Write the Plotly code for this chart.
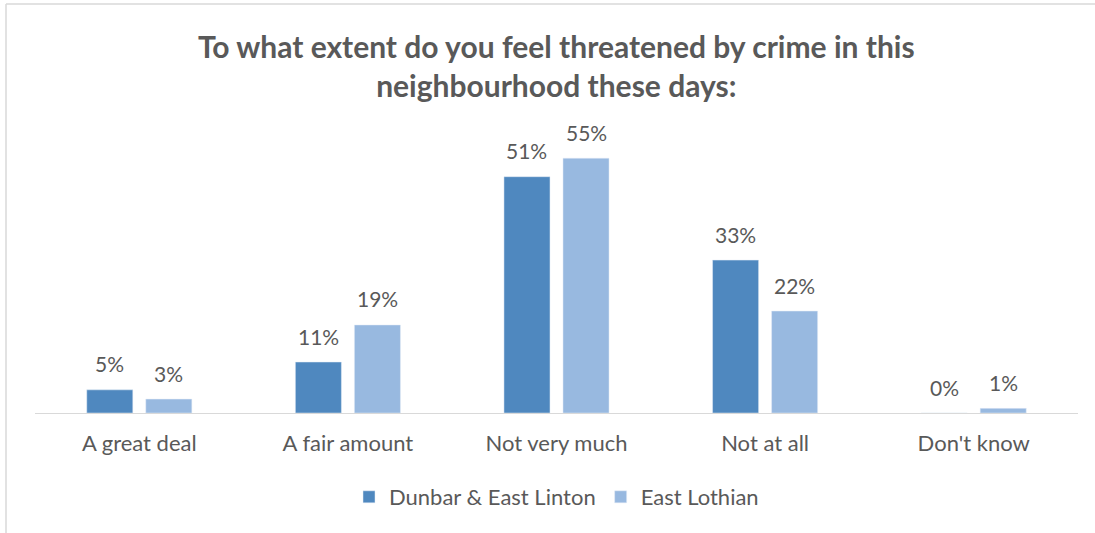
import plotly.graph_objects as go

categories = ["A great deal", "A fair amount", "Not very much", "Not at all", "Don't know"]
dunbar = [5, 11, 51, 33, 0]
east_lothian = [3, 19, 55, 22, 1]
series_names = ["Dunbar & East Linton", "East Lothian"]
title_text = "To what extent do you feel threatened by crime in this<br>neighbourhood these days:"

W, H = 1095, 533
L, R, T, B = 35, 17, 135, 120
plot_w = W - L - R
plot_h = H - T - B
BARGAP, GROUPGAP = 0.434, 0.22
slot = plot_w / len(categories) * (1 - BARGAP) / 2

def px_x(p):
    return (p - L) / plot_w

def px_y(p):
    return (H - B - p) / plot_h

font_fam = "Lato, Open Sans, sans-serif"
grey = "#595959"
colors = ["#4F88BF", "#98B9E0"]

fig = go.Figure()
for name, vals, col in zip(series_names, [dunbar, east_lothian], colors):
    fig.add_trace(go.Bar(x=categories, y=vals, name=name, marker_color=col))

for i, vals in enumerate([dunbar, east_lothian]):
    off = (-0.5 if i == 0 else 0.5) * slot
    for c, v in zip(categories, vals):
        fig.add_annotation(x=c, y=v, text=f"{v}%", showarrow=False,
                           xshift=off, yshift=26, yanchor="middle",
                           font=dict(size=21, color=grey, family=font_fam))

fig.update_layout(
    width=W, height=H,
    margin=dict(l=L, r=R, t=T, b=B),
    paper_bgcolor="white", plot_bgcolor="white",
    barmode="group", bargap=BARGAP, bargroupgap=GROUPGAP,
    font=dict(family=font_fam, color=grey),
    title=dict(text="<b>" + title_text + "</b>", x=0.508, xanchor="center",
               y=1 - 58 / H, yanchor="middle", yref="container",
               font=dict(size=30, color=grey, family=font_fam)),
    xaxis=dict(showline=True, linecolor="#D9D9D9", linewidth=1.3,
               ticks="outside", ticklen=10, tickcolor="rgba(0,0,0,0)",
               showgrid=False, fixedrange=True,
               tickfont=dict(size=22, color=grey, family=font_fam)),
    yaxis=dict(range=[0, 60], visible=False, showgrid=False, fixedrange=True),
    showlegend=True,
    legend=dict(orientation="h", x=0.5, xanchor="center", y=px_y(497), yanchor="middle",
                font=dict(size=22, color=grey, family=font_fam),
                itemwidth=30, traceorder="normal"),
)

border = "#D9D9D9"
fig.add_shape(type="line", xref="paper", yref="paper",
              x0=px_x(6), x1=px_x(6), y0=px_y(4), y1=px_y(540),
              line=dict(color=border, width=1.5))
fig.add_shape(type="line", xref="paper", yref="paper",
              x0=px_x(6), x1=px_x(1100), y0=px_y(4), y1=px_y(4),
              line=dict(color=border, width=1.5))

fig.write_html("out.html", config={"displayModeBar": False},
               post_script="document.body.style.margin='0';document.body.style.overflow='hidden';")
